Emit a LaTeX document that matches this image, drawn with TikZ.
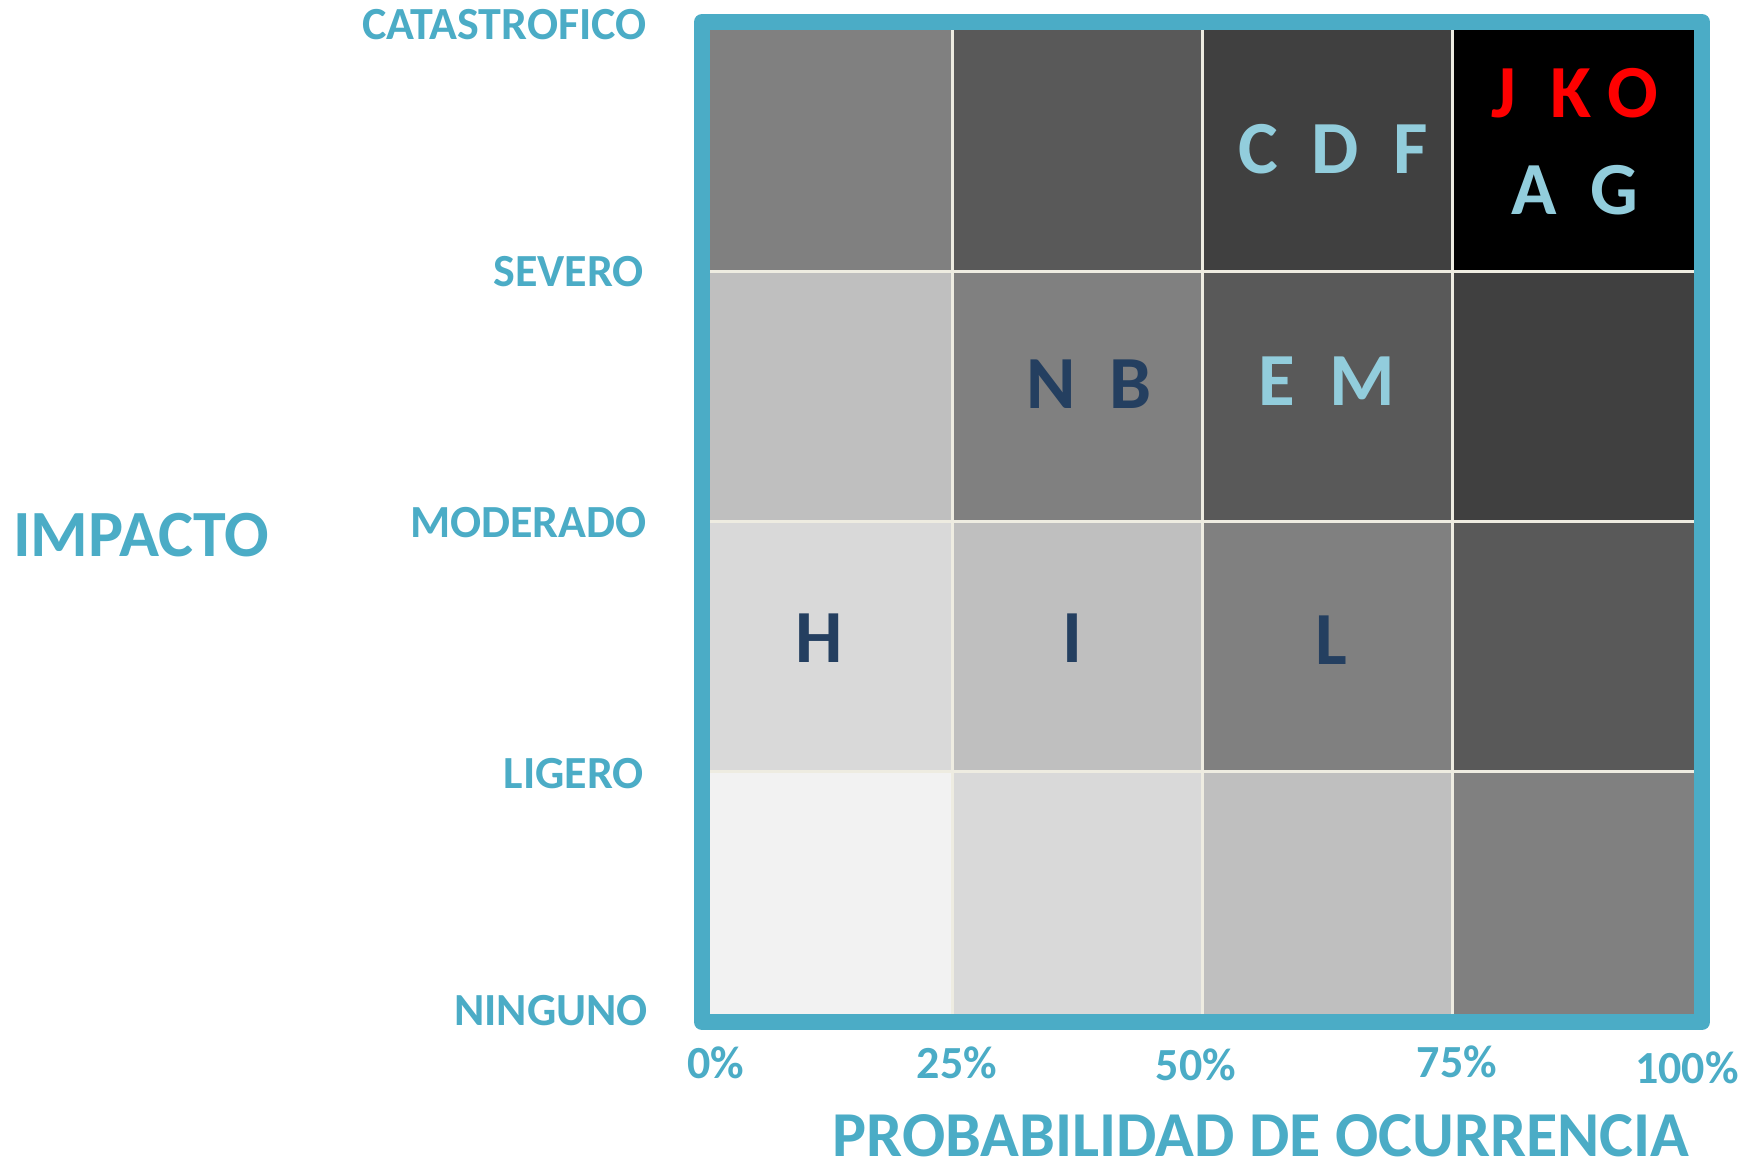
\documentclass[tikz,border=0pt]{standalone}
\usepackage{fontspec}
\setmainfont{Carlito}
\definecolor{aqua}{HTML}{4BACC6}
\definecolor{lightaqua}{HTML}{92CDDC}
\definecolor{navy}{HTML}{243F60}
\definecolor{divider}{HTML}{EEECE1}
\definecolor{gA}{HTML}{F2F2F2}
\definecolor{gB}{HTML}{D9D9D9}
\definecolor{gC}{HTML}{BFBFBF}
\definecolor{gD}{HTML}{808080}
\definecolor{gE}{HTML}{595959}
\definecolor{gF}{HTML}{404040}
\definecolor{gG}{HTML}{000000}
\begin{document}
\begin{tikzpicture}[x=1pt,y=-1pt,
  axlab/.style={text=aqua, inner sep=0pt, font=\bfseries\fontsize{46}{50}\selectfont},
  biglab/.style={text=aqua, inner sep=0pt, font=\bfseries\fontsize{64}{70}\selectfont},
  celltxt/.style={inner sep=0pt, font=\bfseries\fontsize{75}{80}\selectfont},
  divline/.style={draw=divider, line width=3pt},
  framebox/.style={draw=aqua, line width=16pt, line join=round}]
\useasboundingbox (0,0) rectangle (1749,1162);
% cells: row 1 (top)
\fill[gD] (702,22) rectangle (952,271);
\fill[gE] (952,22) rectangle (1202,271);
\fill[gF] (1202,22) rectangle (1452,271);
\fill[gG] (1452,22) rectangle (1702,271);
% row 2
\fill[gC] (702,271) rectangle (952,521);
\fill[gD] (952,271) rectangle (1202,521);
\fill[gE] (1202,271) rectangle (1452,521);
\fill[gF] (1452,271) rectangle (1702,521);
% row 3
\fill[gB] (702,521) rectangle (952,771);
\fill[gC] (952,521) rectangle (1202,771);
\fill[gD] (1202,521) rectangle (1452,771);
\fill[gE] (1452,521) rectangle (1702,771);
% row 4
\fill[gA] (702,771) rectangle (952,1022);
\fill[gB] (952,771) rectangle (1202,1022);
\fill[gC] (1202,771) rectangle (1452,1022);
\fill[gD] (1452,771) rectangle (1702,1022);
% dividers
\draw[divline] (952,22) -- (952,1022);
\draw[divline] (1202,22) -- (1202,1022);
\draw[divline] (1452,22) -- (1452,1022);
\draw[divline] (702,271) -- (1702,271);
\draw[divline] (702,521) -- (1702,521);
\draw[divline] (702,771) -- (1702,771);
% frame
\draw[framebox] (702,22) rectangle (1702,1022);
% cell letters
\node[celltxt, text=lightaqua] (cdf) at (1333,149) {C\ \ D\ \ F};
\node[celltxt, text=red] (jko) at (1575,93) {J\ \ K\ O};
\node[celltxt, text=lightaqua] (ag) at (1575,190) {A\ \ G};
\node[celltxt, text=navy] (nb) at (1089,384) {N\ \ B};
\node[celltxt, text=lightaqua] (em) at (1327,381) {E\ \ M};
\node[celltxt, text=navy] (h) at (819,638) {H};
\node[celltxt, text=navy] (i) at (1072,638) {I};
\node[celltxt, text=navy] (l) at (1331,640) {L};
% impact levels
\node[axlab, anchor=east] (cat) at (647,25) {CATASTROFICO};
\node[axlab, anchor=east] (sev) at (644,272) {SEVERO};
\node[axlab, anchor=east] (mod) at (647,523) {MODERADO};
\node[axlab, anchor=east] (lig) at (644,774) {LIGERO};
\node[axlab, anchor=east] (nin) at (648,1011) {NINGUNO};
\node[biglab, anchor=west, font=\bfseries\fontsize{66}{72}\selectfont] (imp) at (13,535) {IMPACTO};
% probability
\node[axlab] (p0) at (716,1063) {0\%};
\node[axlab] (p25) at (957,1063) {25\%};
\node[axlab] (p50) at (1196,1065) {50\%};
\node[axlab] (p75) at (1457,1062) {75\%};
\node[axlab] (p100) at (1687,1068) {100\%};
\node[biglab] (prob) at (1261,1136) {PROBABILIDAD DE OCURRENCIA};
\end{tikzpicture}
\end{document}
